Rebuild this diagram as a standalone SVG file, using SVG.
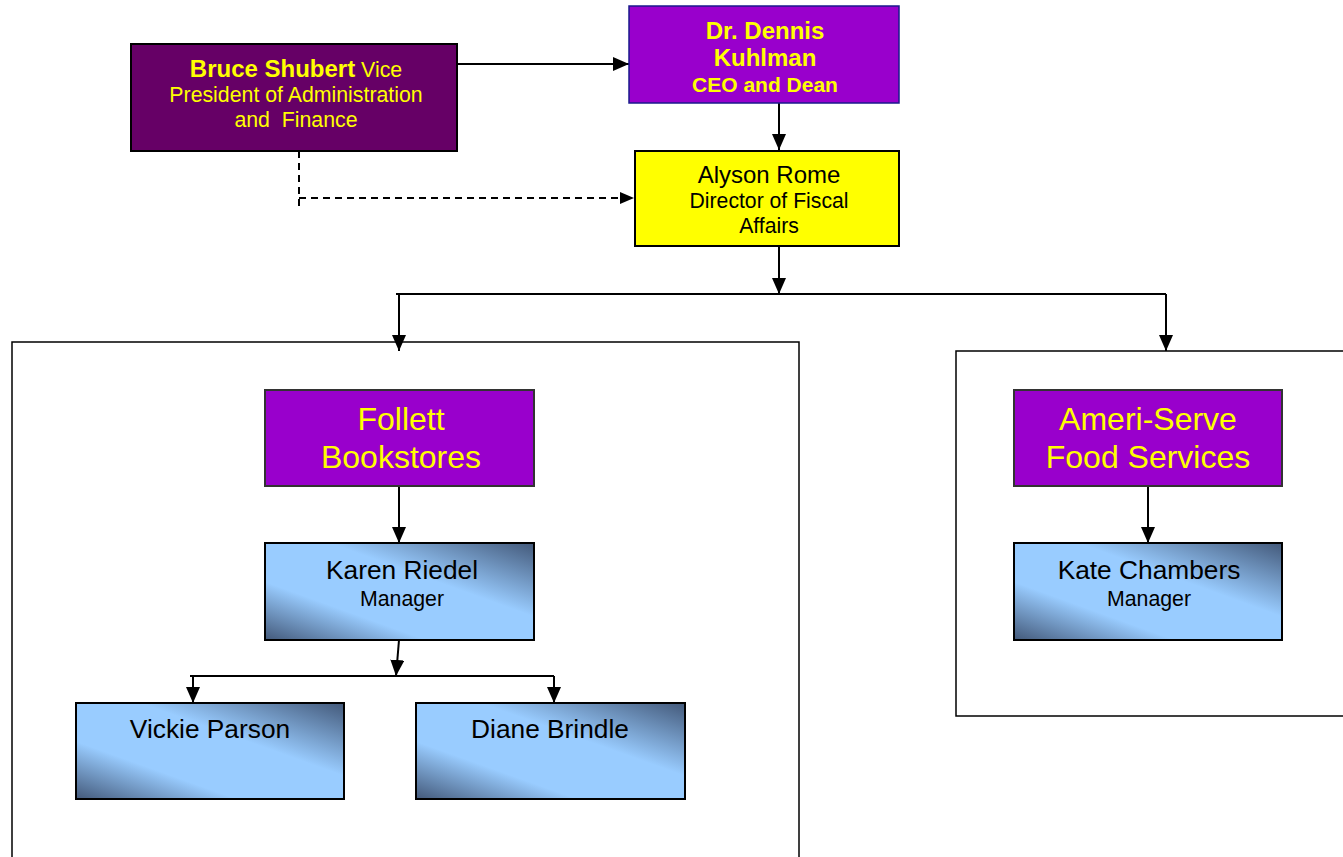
<svg xmlns="http://www.w3.org/2000/svg" width="1343" height="857" viewBox="0 0 1343 857">
<style>
text{font-family:"Liberation Sans",Arial,sans-serif;text-anchor:middle}
.y{fill:#ffff00}
.k{fill:#000}
.b{font-weight:bold}
.ln{stroke:#000;stroke-width:2;fill:none}
.box{stroke:#000;stroke-width:2}
</style>
<defs>
<marker id="ahb" viewBox="0 0 16 14" refX="16" refY="7" markerWidth="16" markerHeight="14" markerUnits="userSpaceOnUse" orient="auto">
<path d="M0,0 L16,7 L0,14 z" fill="#000"/>
</marker>
<marker id="ahs" viewBox="0 0 14 12" refX="14" refY="6" markerWidth="14" markerHeight="12" markerUnits="userSpaceOnUse" orient="auto">
<path d="M0,0 L14,6 L0,12 z" fill="#000"/>
</marker>
<linearGradient id="blue" x1="0" y1="1" x2="1" y2="0">
<stop offset="0" stop-color="#43597a"/>
<stop offset="0.3" stop-color="#99ccff"/>
<stop offset="0.62" stop-color="#99ccff"/>
<stop offset="1" stop-color="#43597a"/>
</linearGradient>
</defs>

<g id="containers">
<rect id="follett-group" x="12" y="342" width="787" height="530" fill="none" stroke="#000" stroke-width="1.5"/>
<rect id="ameri-group" x="956" y="351" width="400" height="365" fill="none" stroke="#000" stroke-width="1.5"/>
</g>

<g id="connectors">
<line class="ln" x1="457" y1="64" x2="629" y2="64" marker-end="url(#ahb)"/>
<line class="ln" x1="779" y1="103" x2="779" y2="150" marker-end="url(#ahb)"/>
<path class="ln" d="M299,151 V208 M299,198 H634" stroke-dasharray="7,5" marker-end="url(#ahs)"/>
<line class="ln" x1="779" y1="246" x2="779" y2="294" marker-end="url(#ahb)"/>
<line class="ln" x1="396" y1="294" x2="1166" y2="294"/>
<line class="ln" x1="399" y1="294" x2="399" y2="351" marker-end="url(#ahb)"/>
<line class="ln" x1="1166" y1="294" x2="1166" y2="351" marker-end="url(#ahb)"/>
<line class="ln" x1="399" y1="486" x2="399" y2="543" marker-end="url(#ahb)"/>
<line class="ln" x1="399" y1="640" x2="396" y2="676" marker-end="url(#ahb)"/>
<line class="ln" x1="190" y1="676" x2="554" y2="676"/>
<line class="ln" x1="193" y1="676" x2="193" y2="703" marker-end="url(#ahb)"/>
<line class="ln" x1="554" y1="676" x2="554" y2="703" marker-end="url(#ahb)"/>
<line class="ln" x1="1148" y1="486" x2="1148" y2="543" marker-end="url(#ahb)"/>
</g>

<g id="bruce">
<rect class="box" x="131" y="44" width="326" height="107" fill="#660066"/>
<text class="y" x="296" y="77" font-size="21.3"><tspan class="b" font-size="24">Bruce Shubert</tspan> Vice</text>
<text class="y" x="296" y="102" font-size="21.3">President of Administration</text>
<text class="y" x="296" y="127" font-size="21.3" xml:space="preserve">and  Finance</text>
</g>

<g id="dennis">
<rect x="629" y="6" width="270" height="97" fill="#9900cc" stroke="#1a1a8c" stroke-width="1.5"/>
<text class="y b" x="765" y="39" font-size="24">Dr. Dennis</text>
<text class="y b" x="765" y="66" font-size="24">Kuhlman</text>
<text class="y b" x="765" y="92" font-size="21">CEO and Dean</text>
</g>

<g id="alyson">
<rect class="box" x="635" y="151" width="264" height="95" fill="#ffff00"/>
<text class="k" x="769" y="183" font-size="24">Alyson Rome</text>
<text class="k" x="769" y="208" font-size="21.2">Director of Fiscal</text>
<text class="k" x="769" y="233" font-size="21.2">Affairs</text>
</g>

<g id="follett">
<rect x="265" y="390" width="269" height="96" fill="#9900cc" stroke="#333" stroke-width="2"/>
<text class="y" x="401" y="430" font-size="32">Follett</text>
<text class="y" x="401" y="468" font-size="32">Bookstores</text>
</g>

<g id="karen">
<rect class="box" x="265" y="543" width="269" height="97" fill="url(#blue)"/>
<text class="k" x="402" y="579" font-size="26.3">Karen Riedel</text>
<text class="k" x="402" y="606" font-size="21.3">Manager</text>
</g>

<g id="vickie">
<rect class="box" x="76" y="703" width="268" height="96" fill="url(#blue)"/>
<text class="k" x="210" y="738" font-size="26.3">Vickie Parson</text>
</g>

<g id="diane">
<rect class="box" x="416" y="703" width="269" height="96" fill="url(#blue)"/>
<text class="k" x="550" y="738" font-size="26.3">Diane Brindle</text>
</g>

<g id="ameri">
<rect x="1014" y="390" width="268" height="96" fill="#9900cc" stroke="#333" stroke-width="2"/>
<text class="y" x="1148" y="430" font-size="32">Ameri-Serve</text>
<text class="y" x="1148" y="468" font-size="32">Food Services</text>
</g>

<g id="kate">
<rect class="box" x="1014" y="543" width="268" height="97" fill="url(#blue)"/>
<text class="k" x="1149" y="579" font-size="26.3">Kate Chambers</text>
<text class="k" x="1149" y="606" font-size="21.3">Manager</text>
</g>
</svg>
